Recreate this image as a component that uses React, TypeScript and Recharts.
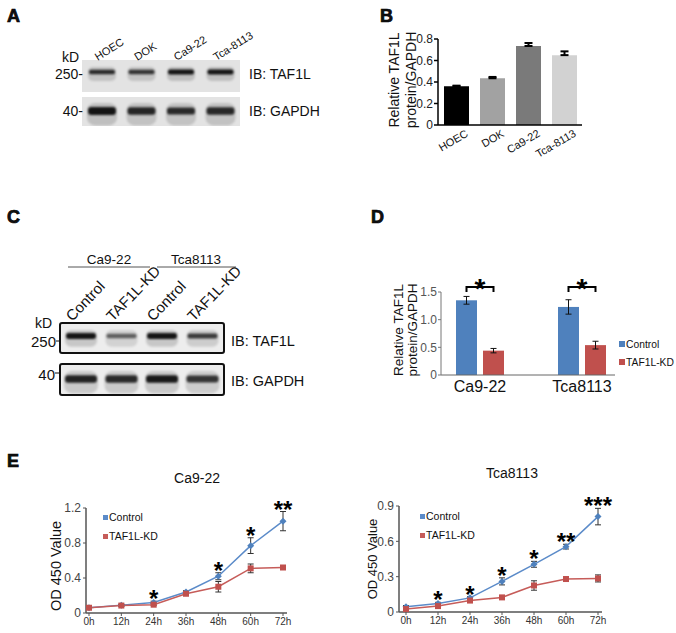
import React from "react";
import {
  BarChart,
  Bar,
  LineChart,
  Line,
  XAxis,
  YAxis,
  ErrorBar,
  Legend,
  Cell
} from "recharts";

// ---- western blot band strengths (0..1, read by eye) ----
const lanesA = ["HOEC", "DOK", "Ca9-22", "Tca-8113"];
const taf1lBandA = [0.78, 0.72, 0.95, 0.95];
const gapdhBandA = [0.95, 0.82, 0.78, 0.8];

const lanesC = ["Control", "TAF1L-KD", "Control", "TAF1L-KD"];
const taf1lBandC = [0.95, 0.42, 0.95, 0.68];
const gapdhBandC = [0.85, 0.8, 0.92, 0.72];

// ---- panel B ----
const relLevelB = [0.36, 0.435, 0.735, 0.65];
const relErrB = [0.006, 0.012, 0.028, 0.035];
const shadesB = ["#000000", "#a2a2a2", "#7a7a7a", "#d2d2d2"];

// ---- panel D ----
const groupsD = ["Ca9-22", "Tca8113"];
const controlD = [1.35, 1.23];
const controlErrD = [0.07, 0.13];
const kdD = [0.44, 0.54];
const kdErrD = [0.04, 0.07];
const sigD = ["*", "*"];

// ---- panel E ----
const hours = ["0h", "12h", "24h", "36h", "48h", "60h", "72h"];
const caControl = [0.06, 0.09, 0.12, 0.24, 0.42, 0.77, 1.05];
const caControlErr = [0.01, 0.01, 0.015, 0.015, 0.04, 0.09, 0.11];
const caKd = [0.06, 0.085, 0.095, 0.22, 0.3, 0.51, 0.52];
const caKdErr = [0.01, 0.01, 0.01, 0.015, 0.06, 0.05, 0.015];
const caStars = ["", "", "*", "", "*", "*", "**"];

const tcaControl = [0.045, 0.072, 0.12, 0.26, 0.405, 0.555, 0.81];
const tcaControlErr = [0.01, 0.01, 0.01, 0.03, 0.025, 0.02, 0.07];
const tcaKd = [0.025, 0.05, 0.097, 0.124, 0.225, 0.28, 0.285];
const tcaKdErr = [0.005, 0.008, 0.01, 0.015, 0.04, 0.012, 0.03];
const tcaStars = ["", "*", "*", "*", "*", "**", "***"];

const BLUE = "#4f81bd";
const RED = "#c0504d";
const FONT = '"Liberation Sans", Arial, sans-serif';

const fmt = (v: number) => (v === 0 ? "0" : v.toFixed(1));

const Band = (props: any) => {
  const { x, width, payload, bandY, bandH } = props;
  const a = payload.intensity;
  const h = bandH * (0.55 + 0.45 * a);
  return (
    <g style={{ filter: "blur(1px)" }}>
      <rect x={x - 1} y={bandY - bandH} width={width + 2} height={bandH * 2.8} rx={bandH} fill="#000" opacity={0.08 + a * 0.08} />
      <rect x={x} y={bandY - h / 2} width={width} height={h} rx={h / 2.5} fill="#0a0a0a" opacity={0.3 + 0.68 * a} />
    </g>
  );
};

function Blot({ lanes, levels, width, height, bandY, bandH, barSize }: any) {
  const data = lanes.map((lane: string, i: number) => ({ lane: `${lane}-${i}`, intensity: levels[i] }));
  return (
    <BarChart width={width} height={height} data={data} margin={{ top: 0, right: 0, bottom: 0, left: 0 }}>
      <XAxis dataKey="lane" hide />
      <YAxis hide domain={[0, 1]} />
      <Bar
        dataKey="intensity"
        barSize={barSize}
        isAnimationActive={false}
        shape={(p: any) => <Band {...p} bandY={bandY} bandH={bandH} />}
      />
    </BarChart>
  );
}

const SlantTick = (props: any) => {
  const { x, y, payload } = props;
  const ax = x + 9;
  return (
    <text x={ax} y={y} dy="0.71em" transform={`rotate(-30, ${ax}, ${y})`} textAnchor="end" fontSize={11} fill="#111">
      {payload.value}
    </text>
  );
};

const BAR_GAP_D = 6;
const BRACKET_LEVEL = 1.59;

const ControlBarD = (props: any) => {
  const { x, y, width, height, payload, fill, index } = props;
  const perUnit = height / payload.control;
  const level = y + height - BRACKET_LEVEL * perUnit;
  const x1 = x + width / 2;
  const x2 = x + width * 1.5 + BAR_GAP_D;
  return (
    <g>
      <rect x={x} y={y} width={width} height={height} fill={fill} />
      <path d={`M${x1},${level + 5}V${level}H${x2}V${level + 5}`} stroke="#000" strokeWidth={2} fill="none" />
      <text x={(x1 + x2) / 2} y={level + 11} textAnchor="middle" fontSize={28} fontWeight="bold" fill="#000">
        {sigD[index]}
      </text>
    </g>
  );
};

const Diamond = (props: any) => {
  const { cx, cy, index } = props;
  return <path key={`d${index}`} d={`M${cx},${cy - 3.5}L${cx + 3.5},${cy}L${cx},${cy + 3.5}L${cx - 3.5},${cy}Z`} fill={BLUE} />;
};

const Square = (props: any) => {
  const { cx, cy, index } = props;
  return <rect key={`s${index}`} x={cx - 3} y={cy - 3} width={6} height={6} fill={RED} />;
};

const starDot = (stars: string[]) => (props: any) => {
  const { cx, cy, index } = props;
  if (!stars[index]) return <g key={`st${index}`} />;
  return (
    <text key={`st${index}`} x={cx} y={cy + 6} textAnchor="middle" fontSize={24} fontWeight="bold" fill="#000">
      {stars[index]}
    </text>
  );
};

// legend body: square swatch + black text, one entry per row, never wrapping
const legendBox = (fontSize: number, rowH: number, sw: number) => (props: any) => {
  const items = (props.payload || []).filter((e: any) => e.type !== "none");
  return (
    <div style={{ whiteSpace: "nowrap", fontSize, lineHeight: `${rowH}px`, color: "#111" }}>
      {items.map((e: any) => (
        <div key={e.value}>
          <span style={{ display: "inline-block", width: sw, height: sw, background: e.color, marginRight: 1, verticalAlign: "middle", position: "relative", top: -1 }} />
          {e.value}
        </div>
      ))}
    </div>
  );
};

function GrowthChart({ control, controlErr, kd, kdErr, stars, max, ticks, width, height, yWidth, right, pad, legendPos }: any) {
  const data = hours.map((h, i) => ({
    h,
    Control: control[i],
    cErr: controlErr[i],
    "TAF1L-KD": kd[i],
    kErr: kdErr[i],
    starBase: control[i] + controlErr[i]
  }));
  return (
    <LineChart width={width} height={height} data={data} margin={{ top: 18, right, left: 0, bottom: 0 }}>
      <XAxis
        dataKey="h"
        height={20}
        padding={pad}
        tickSize={3}
        tickMargin={2}
        tick={{ fontSize: 10, fill: "#333" }}
        axisLine={{ stroke: "#555", strokeWidth: 1.5 }}
        tickLine={{ stroke: "#555" }}
        interval={0}
      />
      <YAxis
        width={yWidth}
        domain={[0, max]}
        ticks={ticks}
        tickFormatter={fmt}
        tickSize={3}
        tickMargin={2}
        tick={{ fontSize: 12, fill: "#444" }}
        axisLine={{ stroke: "#555", strokeWidth: 1.5 }}
        tickLine={{ stroke: "#555" }}
      />
      <Legend
        layout="vertical"
        align="center"
        verticalAlign="middle"
        content={legendBox(10.5, 19, 5)}
        wrapperStyle={{ left: legendPos[0], top: legendPos[1], width: 80 }}
      />
      <Line dataKey="Control" stroke="#5b8bc9" strokeWidth={1.5} dot={Diamond} activeDot={false} isAnimationActive={false}>
        <ErrorBar dataKey="cErr" width={3} stroke="#333" strokeWidth={1} />
      </Line>
      <Line dataKey="TAF1L-KD" stroke="#c65c59" strokeWidth={1.5} dot={Square} activeDot={false} isAnimationActive={false}>
        <ErrorBar dataKey="kErr" width={3} stroke="#333" strokeWidth={1} />
      </Line>
      <Line dataKey="starBase" stroke="none" legendType="none" dot={starDot(stars)} activeDot={false} isAnimationActive={false} />
    </LineChart>
  );
}

export default function App() {
  const dataB = lanesA.map((name, i) => ({ name, level: relLevelB[i], err: [0, relErrB[i]] }));
  const dataD = groupsD.map((g, i) => ({
    g,
    control: controlD[i],
    controlErr: controlErrD[i],
    kd: kdD[i],
    kdErr: kdErrD[i]
  }));
  const laneA = (i: number) => 82 + (158 / 4) * (i + 0.5);
  const laneC = (i: number) => 61 + (162 / 4) * (i + 0.5);
  const letter = { fontSize: 18, fontWeight: 900, stroke: "#000", strokeWidth: 0.7 } as any;

  return (
    <div style={{ position: "relative", width: 676, height: 633, background: "#fff", fontFamily: FONT, overflow: "hidden" }}>
      <style>{`body{margin:0}`}</style>

      {/* Panel A blots */}
      <div style={{ position: "absolute", left: 82, top: 60, width: 158, height: 32, background: "#e3e3e3" }}>
        <Blot lanes={lanesA} levels={taf1lBandA} width={158} height={32} bandY={12} bandH={5} barSize={26} />
      </div>
      <div style={{ position: "absolute", left: 82, top: 97, width: 158, height: 29, background: "#e3e3e3" }}>
        <Blot lanes={lanesA} levels={gapdhBandA} width={158} height={29} bandY={14} bandH={8} barSize={28} />
      </div>

      {/* Panel C blots */}
      <div style={{ position: "absolute", left: 59, top: 322, width: 166, height: 32, border: "2px solid #111", borderRadius: 3, boxSizing: "border-box", background: "#ededed" }}>
        <Blot lanes={lanesC} levels={taf1lBandC} width={162} height={28} bandY={12} bandH={6} barSize={30} />
      </div>
      <div style={{ position: "absolute", left: 59, top: 363, width: 166, height: 33, border: "2px solid #111", borderRadius: 3, boxSizing: "border-box", background: "#ededed" }}>
        <Blot lanes={lanesC} levels={gapdhBandC} width={162} height={29} bandY={14} bandH={8} barSize={32} />
      </div>

      {/* Panel B */}
      <div style={{ position: "absolute", left: 370, top: 20 }}>
        <BarChart width={230} height={150} data={dataB} margin={{ top: 19, right: 18, left: 0, bottom: 0 }}>
          <XAxis
            dataKey="name"
            height={45}
            tick={SlantTick}
            tickLine={false}
            tickSize={4}
            tickMargin={0}
            interval={0}
            axisLine={{ stroke: "#000", strokeWidth: 1.5 }}
          />
          <YAxis
            width={68}
            domain={[0, 0.8]}
            ticks={[0, 0.2, 0.4, 0.6, 0.8]}
            tickFormatter={fmt}
            tickSize={4}
            tickMargin={1}
            tick={{ fontSize: 12, fill: "#222" }}
            axisLine={{ stroke: "#000", strokeWidth: 1.5 }}
            tickLine={{ stroke: "#000", strokeWidth: 1.5 }}
          />
          <Bar dataKey="level" barSize={25} isAnimationActive={false}>
            {dataB.map((d, i) => (
              <Cell key={d.name} fill={shadesB[i]} />
            ))}
            <ErrorBar dataKey="err" width={4} stroke="#000" strokeWidth={2} />
          </Bar>
        </BarChart>
      </div>

      {/* Panel D */}
      <div style={{ position: "absolute", left: 370, top: 270 }}>
        <BarChart width={306} height={130} data={dataD} margin={{ top: 22, right: 61, left: 0, bottom: 0 }} barGap={BAR_GAP_D}>
          <XAxis
            dataKey="g"
            height={25}
            padding={{ left: -12, right: -18 }}
            tickLine={false}
            tickSize={0}
            tickMargin={6}
            tick={{ fontSize: 16, fill: "#111" }}
            axisLine={{ stroke: "#666", strokeWidth: 1 }}
          />
          <YAxis
            width={71}
            domain={[0, 1.5]}
            ticks={[0, 0.5, 1, 1.5]}
            tickFormatter={fmt}
            tickSize={3}
            tickMargin={1}
            tick={{ fontSize: 12, fill: "#555" }}
            axisLine={{ stroke: "#777" }}
            tickLine={{ stroke: "#777" }}
          />
          <Legend
            layout="vertical"
            align="center"
            verticalAlign="middle"
            content={legendBox(10.3, 18, 6)}
            wrapperStyle={{ left: 249, top: 66, width: 56 }}
          />
          <Bar dataKey="control" name="Control" fill={BLUE} barSize={21} shape={ControlBarD} isAnimationActive={false}>
            <ErrorBar dataKey="controlErr" width={3} stroke="#111" strokeWidth={1} />
          </Bar>
          <Bar dataKey="kd" name="TAF1L-KD" fill={RED} barSize={21} isAnimationActive={false}>
            <ErrorBar dataKey="kdErr" width={3} stroke="#111" strokeWidth={1} />
          </Bar>
        </BarChart>
      </div>

      {/* Panel E */}
      <div style={{ position: "absolute", left: 30, top: 490 }}>
        <GrowthChart
          control={caControl}
          controlErr={caControlErr}
          kd={caKd}
          kdErr={caKdErr}
          stars={caStars}
          max={1.2}
          ticks={[0, 0.4, 0.8, 1.2]}
          width={270}
          height={143}
          yWidth={56}
          right={13}
          pad={{ left: 3, right: 4 }}
          legendPos={[73, 18]}
        />
      </div>
      <div style={{ position: "absolute", left: 340, top: 488 }}>
        <GrowthChart
          control={tcaControl}
          controlErr={tcaControlErr}
          kd={tcaKd}
          kdErr={tcaKdErr}
          stars={tcaStars}
          max={0.9}
          ticks={[0, 0.3, 0.6, 0.9]}
          width={276}
          height={144}
          yWidth={59}
          right={14}
          pad={{ left: 7, right: 4 }}
          legendPos={[80, 19]}
        />
      </div>

      {/* text overlay */}
      <svg width={676} height={633} style={{ position: "absolute", left: 0, top: 0, pointerEvents: "none" }} fontFamily={FONT} fill="#111">
        <text x={7} y={22} {...letter}>A</text>
        <text x={380} y={22} {...letter}>B</text>
        <text x={7} y={223} {...letter}>C</text>
        <text x={371} y={223} {...letter}>D</text>
        <text x={7} y={467} {...letter}>E</text>

        {/* A labels */}
        <text x={62} y={62} fontSize={14}>kD</text>
        <text x={83} y={79} fontSize={14} textAnchor="end">250-</text>
        <text x={83} y={116} fontSize={14} textAnchor="end">40-</text>
        <text x={249} y={79} fontSize={14}>IB: TAF1L</text>
        <text x={249} y={116} fontSize={14}>IB: GAPDH</text>
        {lanesA.map((l, i) => (
          <text key={l} transform={`translate(${laneA(i) - 4},61) rotate(-32)`} fontSize={11}>{l}</text>
        ))}

        {/* C labels */}
        <text x={109} y={264} fontSize={13.5} textAnchor="middle">Ca9-22</text>
        <line x1={68} x2={150} y1={267} y2={267} stroke="#555" strokeWidth={1} />
        <text x={196} y={264} fontSize={13.5} textAnchor="middle">Tca8113</text>
        <line x1={157} x2={236} y1={267} y2={267} stroke="#555" strokeWidth={1} />
        {lanesC.map((l, i) => (
          <text key={`${l}${i}`} transform={`translate(${laneC(i) - 9},322) rotate(-46)`} fontSize={15}>{l}</text>
        ))}
        <text x={35} y={328} fontSize={14}>kD</text>
        <text x={56} y={347} fontSize={15} textAnchor="end">250</text>
        <line x1={56} x2={60} y1={341} y2={341} stroke="#111" />
        <text x={55} y={380} fontSize={15} textAnchor="end">40</text>
        <line x1={55} x2={60} y1={373} y2={373} stroke="#111" />
        <text x={231} y={346} fontSize={14.5}>IB: TAF1L</text>
        <text x={231} y={386} fontSize={14.5}>IB: GAPDH</text>

        {/* axis titles */}
        <text transform="translate(399,80) rotate(-90)" fontSize={14} textAnchor="middle">Relative TAF1L</text>
        <text transform="translate(416,80) rotate(-90)" fontSize={14} textAnchor="middle">protein/GAPDH</text>
        <text transform="translate(403,330) rotate(-90)" fontSize={13.5} textAnchor="middle">Relative TAF1L</text>
        <text transform="translate(417,330) rotate(-90)" fontSize={13.5} textAnchor="middle">protein/GAPDH</text>
        <text x={197} y={483} fontSize={14} textAnchor="middle">Ca9-22</text>
        <text x={512} y={478} fontSize={14} textAnchor="middle">Tca8113</text>
        <text transform="translate(61,566) rotate(-90)" fontSize={14.5} textAnchor="middle">OD 450 Value</text>
        <text transform="translate(377,559) rotate(-90)" fontSize={13} textAnchor="middle">OD 450 Value</text>
      </svg>
    </div>
  );
}
